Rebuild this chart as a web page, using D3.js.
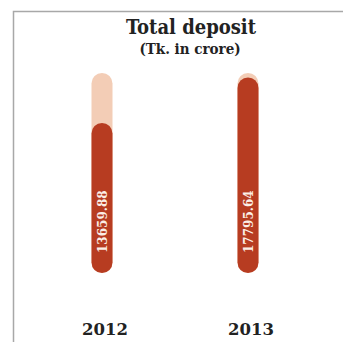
<!DOCTYPE html>
<html>
<head>
<meta charset="utf-8">
<script src="https://cdn.jsdelivr.net/npm/d3@7"></script>
<style>
  html, body { margin: 0; padding: 0; background: #fff; }
  svg { display: block; }
</style>
</head>
<body>
<svg id="chart" width="343" height="342"></svg>
<script>
// Total deposit per year, Tk. in crore
const years = ["2012", "2013"];
const deposits = [13659.88, 17795.64];
const trackMax = 18200;

const W = 343, H = 342;
const svg = d3.select("#chart");

const x = d3.scalePoint().domain(years).range([102, 248]);
const y = d3.scaleLinear().domain([0, trackMax]).range([273, 73]);
const barW = 21;

// frame
svg.append("path")
  .attr("d", `M13.5,${H} V11.5 H${W}`)
  .attr("fill", "none")
  .attr("stroke", "#a8a8a8")
  .attr("stroke-width", 1.5);

// title
svg.append("text")
  .attr("x", 191).attr("y", 34)
  .attr("text-anchor", "middle")
  .style("font-family", "'DejaVu Serif Condensed', 'DejaVu Serif', serif")
  .style("font-stretch", "condensed")
  .style("font-weight", "bold")
  .style("font-size", "20px")
  .attr("fill", "#222")
  .text("Total deposit");

svg.append("text")
  .attr("x", 190).attr("y", 54)
  .attr("text-anchor", "middle")
  .style("font-family", "'DejaVu Serif Condensed', 'DejaVu Serif', serif")
  .style("font-stretch", "condensed")
  .style("font-weight", "bold")
  .style("font-size", "15px")
  .attr("fill", "#222")
  .text("(Tk. in crore)");

const rows = years.map((yr, i) => ({ year: yr, value: deposits[i] }));

const g = svg.selectAll("g.bar").data(rows).join("g").attr("class", "bar");

// light track
g.append("rect")
  .attr("x", d => x(d.year) - barW / 2)
  .attr("width", barW)
  .attr("y", y(trackMax))
  .attr("height", y(0) - y(trackMax))
  .attr("rx", barW / 2).attr("ry", barW / 2)
  .attr("fill", "#f3cdb6");

// value bar
g.append("rect")
  .attr("x", d => x(d.year) - barW / 2)
  .attr("width", barW)
  .attr("y", d => y(d.value))
  .attr("height", d => y(0) - y(d.value))
  .attr("rx", barW / 2).attr("ry", barW / 2)
  .attr("fill", "#b73c21");

// value labels, reading upward
g.append("text")
  .attr("transform", d => `translate(${x(d.year) + 4.5},${y(0) - 20}) rotate(-90)`)
  .attr("text-anchor", "start")
  .style("font-family", "'DejaVu Serif', serif")
  .style("font-size", "12px")
  .style("font-weight", "600")
  .attr("fill", "#fbeee6")
  .text(d => d.value.toFixed(2));

// year labels
g.append("text")
  .attr("x", d => x(d.year) + 3)
  .attr("y", 335)
  .attr("text-anchor", "middle")
  .style("font-family", "'DejaVu Serif', serif")
  .style("font-weight", "bold")
  .style("font-size", "16.5px")
  .attr("fill", "#222")
  .text(d => d.year);
</script>
</body>
</html>
